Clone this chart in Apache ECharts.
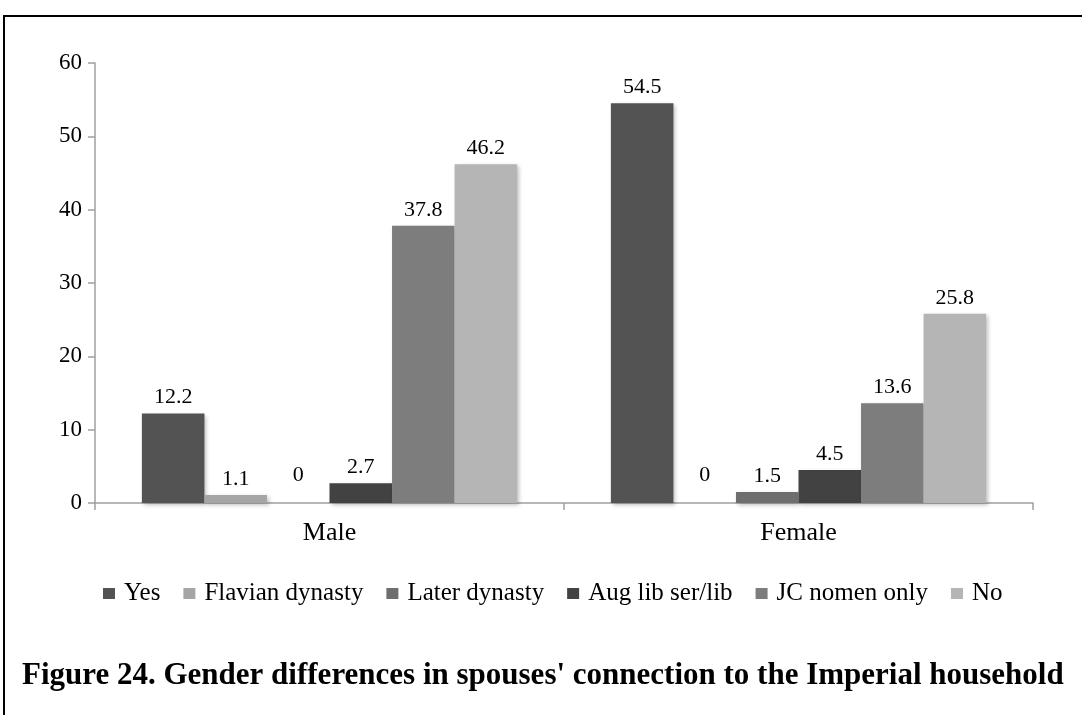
<!DOCTYPE html>
<html>
<head>
<meta charset="utf-8">
<script src="https://cdn.jsdelivr.net/npm/echarts@6/dist/echarts.min.js"></script>
<style>
html,body{margin:0;padding:0;background:#fff;}
#chart{width:1082px;height:715px;}
</style>
</head>
<body>
<div id="chart"></div>
<script>
const categories = ['Male', 'Female'];
const seriesNames = ['Yes', 'Flavian dynasty', 'Later dynasty', 'Aug lib ser/lib', 'JC nomen only', 'No'];
const yesValues = [12.2, 54.5];
const flavianValues = [1.1, 0];
const laterValues = [0, 1.5];
const augValues = [2.7, 4.5];
const jcValues = [37.8, 13.6];
const noValues = [46.2, 25.8];
const yTicks = [0, 10, 20, 30, 40, 50, 60];
const titleText = "Figure 24. Gender differences in spouses' connection to the Imperial household";

const colors = ['#535353', '#a5a5a5', '#6e6e6e', '#424242', '#7d7d7d', '#b5b5b5'];
const allValues = [yesValues, flavianValues, laterValues, augValues, jcValues, noValues];
const FONT = '"Liberation Serif", "Times New Roman", serif';

const chart = echarts.init(document.getElementById('chart'), null, {renderer: 'canvas'});
chart.setOption({
  animation: false,
  backgroundColor: '#fff',
  color: colors,
  title: {
    text: titleText,
    left: 17,
    top: 655,
    textStyle: {fontFamily: FONT, fontWeight: 'bold', fontSize: 31, color: '#000'}
  },
  graphic: [{
    type: 'rect',
    shape: {x: 4, y: 16, width: 1100, height: 720},
    style: {fill: 'none', stroke: '#000', lineWidth: 2}
  }],
  legend: {
    data: seriesNames,
    left: 98,
    top: 576,
    icon: 'rect',
    itemWidth: 12,
    itemHeight: 11,
    itemGap: 23,
    textStyle: {fontFamily: FONT, fontSize: 25, color: '#000', padding: [0, 0, 0, 4]}
  },
  grid: {left: 95, right: 49, top: 63, bottom: 212, containLabel: false},
  xAxis: {
    type: 'category',
    data: categories,
    axisLine: {lineStyle: {color: '#a0a0a0', width: 1.5}},
    axisTick: {show: true, length: 7, lineStyle: {color: '#a0a0a0', width: 1.5}},
    axisLabel: {fontFamily: FONT, fontSize: 26, color: '#000', margin: 17},
    splitLine: {show: false}
  },
  yAxis: {
    type: 'value',
    min: yTicks[0],
    max: yTicks[yTicks.length - 1],
    interval: 10,
    axisLine: {show: true, lineStyle: {color: '#a0a0a0', width: 1.5}},
    axisTick: {show: true, inside: false, length: 7, lineStyle: {color: '#a0a0a0', width: 1.5}},
    axisLabel: {fontFamily: FONT, fontSize: 23, color: '#000', margin: 13},
    splitLine: {show: false}
  },
  series: seriesNames.map((name, i) => ({
    name: name,
    type: 'bar',
    data: allValues[i].map(v => v === 0 ? {value: v, label: {distance: 17}} : v),
    barGap: '0%',
    barCategoryGap: '20%',
    itemStyle: {
      color: colors[i],
      shadowColor: 'rgba(0,0,0,0.25)',
      shadowBlur: 4,
      shadowOffsetX: 2,
      shadowOffsetY: 2
    },
    label: {
      show: true,
      position: 'top',
      distance: 5,
      fontFamily: FONT,
      fontSize: 22,
      color: '#000'
    }
  }))
});
</script>
</body>
</html>
